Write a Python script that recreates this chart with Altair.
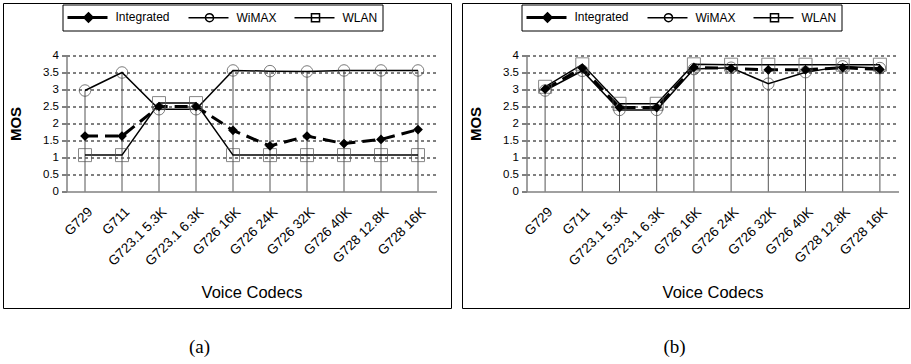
import altair as alt
import pandas as pd

# ---------------- data ----------------
codecs = ["G729", "G711", "G723.1 5.3K", "G723.1 6.3K", "G726 16K",
          "G726 24K", "G726 32K", "G726 40K", "G728 12.8K", "G728 16K"]
series_names = ["Integrated", "WiMAX", "WLAN"]

integrated_a = [1.63, 1.63, 2.50, 2.50, 1.80, 1.34, 1.63, 1.41, 1.53, 1.82]
wimax_a      = [2.97, 3.50, 2.42, 2.42, 3.56, 3.54, 3.53, 3.56, 3.56, 3.56]
wlan_a       = [1.07, 1.07, 2.60, 2.60, 1.07, 1.07, 1.07, 1.07, 1.07, 1.07]

integrated_b = [3.01, 3.63, 2.47, 2.47, 3.65, 3.62, 3.58, 3.58, 3.64, 3.59]
wimax_b      = [2.97, 3.55, 2.40, 2.40, 3.60, 3.64, 3.17, 3.51, 3.68, 3.63]
wlan_b       = [3.08, 3.74, 2.58, 2.58, 3.74, 3.73, 3.73, 3.73, 3.73, 3.73]

y_ticks = [0, 0.5, 1, 1.5, 2, 2.5, 3, 3.5, 4]
panel_labels = ["(a)", "(b)"]
x_title = "Voice Codecs"
y_title = "MOS"

FONT = "Liberation Sans"


def long_df(integ, wimax, wlan):
    rows = []
    for name, vals in zip(series_names, [integ, wimax, wlan]):
        for c, v in zip(codecs, vals):
            rows.append({"codec": c, "series": name, "value": v})
    return pd.DataFrame(rows)


def drop_df(integ, wimax, wlan):
    return pd.DataFrame({"codec": codecs,
                         "top": [max(t) for t in zip(integ, wimax, wlan)]})


# legend symbols: line + marker drawn as custom paths (units of 6.5 px)
def circle_path(cx, r):
    return (f"M{cx - r},0A{r},{r} 0 1,0 {cx + r},0A{r},{r} 0 1,0 {cx - r},0Z")


def diamond_path(cx, h):
    return f"M{cx},{-h}L{cx + h},0L{cx},{h}L{cx - h},0Z"


L0, L1, MC = -1.154, 5.0, 2.077
legend_paths = [
    f"M{L0},-0.12L{L1},-0.12M{L0},0L{L1},0M{L0},0.12L{L1},0.12"
    + diamond_path(MC, 0.72) + diamond_path(MC, 0.48) + diamond_path(MC, 0.24),
    f"M{L0},0L{L1},0" + circle_path(MC, 0.62),
    f"M{L0},0L{L1},0M{MC - 0.62},-0.62L{MC + 0.62},-0.62L{MC + 0.62},0.62L{MC - 0.62},0.62Z",
]


def panel(df, drops, label, W, H, box, label_x, legend_x, legend_y):
    x_axis = alt.Axis(title=x_title, labelAngle=-45, labelFont=FONT, labelFontSize=13.5,
                      labelColor="black", ticks=False, labelPadding=13,
                      domainColor="#808080", domainWidth=1.5, grid=False,
                      labelOverlap=False, titleFont=FONT, titleFontSize=16.5,
                      titleFontWeight="normal", titleColor="black", titlePadding=17)
    y_axis = alt.Axis(title=y_title, values=y_ticks, format="~g", labelFont=FONT,
                      labelFontSize=11.5, labelColor="black", labelPadding=3,
                      tickSize=5, tickColor="black", domainColor="#808080",
                      domainWidth=1.5, grid=True, gridColor="black", gridDash=[3, 3],
                      gridWidth=1,
                      gridOpacity={"condition": {"test": "datum.value == 0", "value": 0}, "value": 1},
                      titleFont=FONT, titleFontSize=15, titleFontWeight="bold",
                      titleColor="black", titlePadding=19)
    x = alt.X("codec:N", sort=codecs,
              scale=alt.Scale(type="point", padding=0.5, domain=codecs), axis=x_axis)
    y = alt.Y("value:Q", scale=alt.Scale(domain=[0, 4]), axis=y_axis)

    one = alt.Data(values=[{}])
    box_layer = alt.Chart(one).mark_rect(fill="transparent", stroke="black",
                                         strokeWidth=1).encode(
        x=alt.value(box[0]), x2=alt.value(box[1]),
        y=alt.value(box[2]), y2=alt.value(box[3]))

    drop_layer = alt.Chart(drops).mark_rule(color="#555", strokeWidth=1).encode(
        x=x, y=alt.Y("top:Q", scale=alt.Scale(domain=[0, 4]), axis=y_axis),
        y2=alt.datum(0))

    base = alt.Chart(df)
    line_wimax = base.transform_filter(alt.datum.series == "WiMAX").mark_line(
        color="black", strokeWidth=1.5).encode(x=x, y=y)
    line_wlan = base.transform_filter(alt.datum.series == "WLAN").mark_line(
        color="black", strokeWidth=1.5).encode(x=x, y=y)
    line_int = base.transform_filter(alt.datum.series == "Integrated").mark_line(
        color="black", strokeWidth=3, strokeDash=[13, 7]).encode(x=x, y=y)

    pts_wlan = base.transform_filter(alt.datum.series == "WLAN").mark_point(
        shape="square", size=169, color="#555", strokeWidth=1, filled=False).encode(x=x, y=y)
    pts_wimax = base.transform_filter(alt.datum.series == "WiMAX").mark_point(
        shape="circle", size=133, color="#444", strokeWidth=1, filled=False).encode(x=x, y=y)
    pts_int = base.transform_filter(alt.datum.series == "Integrated").mark_point(
        shape="diamond", size=95, color="black", filled=True, opacity=1).encode(x=x, y=y)

    legend_layer = base.transform_filter("false").mark_point(color="black").encode(
        x=x, y=y,
        shape=alt.Shape("series:N",
                        scale=alt.Scale(domain=series_names, range=legend_paths),
                        legend=alt.Legend(title=None, orient="none", legendX=legend_x,
                                          legendY=legend_y, direction="horizontal",
                                          strokeColor="black", fillColor="white",
                                          padding=5, columnPadding=14, symbolSize=169,
                                          symbolStrokeWidth=1.5, symbolStrokeColor="black",
                                          symbolFillColor="transparent", symbolOpacity=1,
                                          labelFont=FONT, labelFontSize=12,
                                          labelColor="black", labelOffset=33)))

    text_layer = alt.Chart(one).mark_text(text=label, font="Liberation Serif",
                                          fontSize=19, color="black").encode(
        x=alt.value(label_x), y=alt.value(291))

    return alt.layer(box_layer, drop_layer, line_wlan, line_wimax, line_int,
                     pts_wlan, pts_wimax, pts_int, legend_layer, text_layer
                     ).properties(width=W, height=H)


left = panel(long_df(integrated_a, wimax_a, wlan_a), drop_df(integrated_a, wimax_a, wlan_a),
             panel_labels[0], 370, 136, (-63, 385, -52, 253), 133, -4, -51)
right = panel(long_df(integrated_b, wimax_b, wlan_b), drop_df(integrated_b, wimax_b, wlan_b),
              panel_labels[1], 372, 136, (-64, 383, -52, 253), 148, -5, -51)

chart = alt.hconcat(left, right, spacing=9).resolve_scale(
    x="independent", y="independent", shape="independent"
).properties(
    padding={"left": 2.5, "top": 2.5, "right": 0, "bottom": 0},
    background="white"
).configure_view(strokeOpacity=0)

chart.save("out.html", embed_options={"renderer": "svg", "actions": False})
